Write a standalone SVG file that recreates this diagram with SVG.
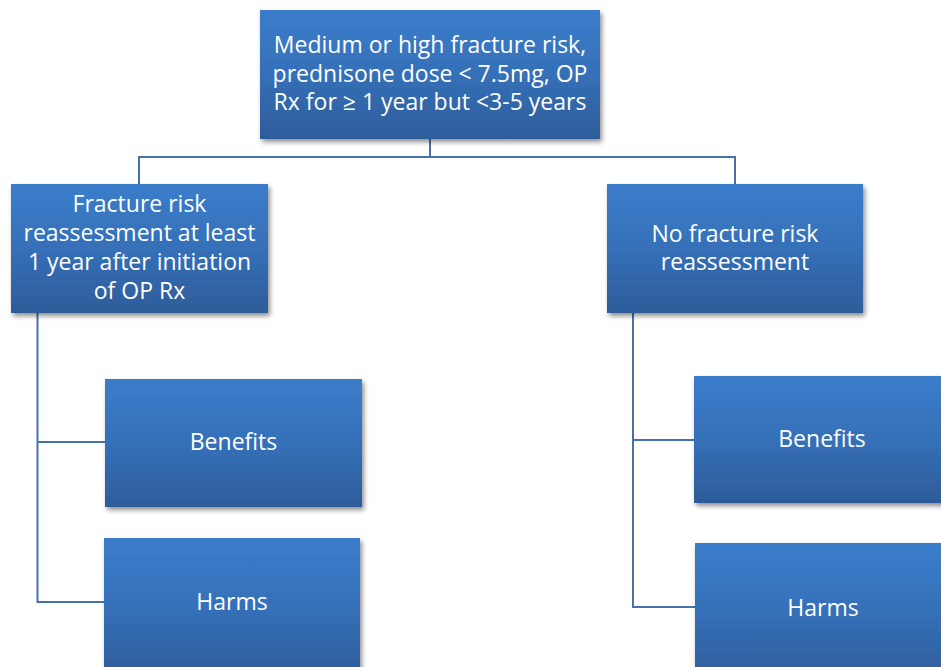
<svg xmlns="http://www.w3.org/2000/svg" width="941" height="667" viewBox="0 0 941 667">
<defs>
<linearGradient id="g" x1="0" y1="0" x2="0" y2="1">
<stop offset="0" stop-color="#3B7DCB"/>
<stop offset="0.5" stop-color="#3570B8"/>
<stop offset="1" stop-color="#2E5C99"/>
</linearGradient>
<filter id="sh" x="-10%" y="-10%" width="125%" height="130%">
<feGaussianBlur in="SourceAlpha" stdDeviation="2.5"/>
<feOffset dx="2" dy="3" result="b"/>
<feComponentTransfer><feFuncA type="linear" slope="0.45"/></feComponentTransfer>
<feMerge><feMergeNode/><feMergeNode in="SourceGraphic"/></feMerge>
</filter>
</defs>
<style>
.box{fill:url(#g);filter:url(#sh);}
.t{font-family:"Open Sans","Noto Sans","Liberation Sans",sans-serif;font-size:23px;fill:#FFFFFF;text-anchor:middle;}
.c{fill:none;stroke:#4672AA;stroke-width:2;}
</style>
<rect width="941" height="667" fill="#FFFFFF"/>
<g id="connectors">
<polyline class="c" points="430,139 430,157"/>
<polyline class="c" points="139,184 139,157 735,157 735,184"/>
<polyline class="c" points="37.5,313 37.5,602 104,602"/>
<polyline class="c" points="37.5,442 105,442"/>
<polyline class="c" points="633,313 633,607 695,607"/>
<polyline class="c" points="633,440 694,440"/>
</g>
<g id="root">
<rect class="box" x="260" y="10" width="340" height="129"/>
<text class="t" x="430" y="52.5">Medium or high fracture risk,</text>
<text class="t" x="430" y="81.5">prednisone dose &lt; 7.5mg, OP</text>
<text class="t" x="430" y="110">Rx for ≥ 1 year but &lt;3-5 years</text>
</g>
<g id="reassess">
<rect class="box" x="11" y="184" width="257" height="129"/>
<text class="t" x="139.5" y="211.5">Fracture risk</text>
<text class="t" x="139.5" y="241">reassessment at least</text>
<text class="t" x="139.5" y="270">1 year after initiation</text>
<text class="t" x="139.5" y="299">of OP Rx</text>
</g>
<g id="noreassess">
<rect class="box" x="607" y="184" width="256" height="129"/>
<text class="t" x="735" y="241.5">No fracture risk</text>
<text class="t" x="735" y="270">reassessment</text>
</g>
<g id="benefits-left">
<rect class="box" x="105" y="379" width="257" height="128"/>
<text class="t" x="233.5" y="450">Benefits</text>
</g>
<g id="harms-left">
<rect class="box" x="104" y="538" width="256" height="140"/>
<text class="t" x="232" y="610">Harms</text>
</g>
<g id="benefits-right">
<rect class="box" x="694" y="376" width="256" height="127"/>
<text class="t" x="822" y="447">Benefits</text>
</g>
<g id="harms-right">
<rect class="box" x="695" y="543" width="256" height="140"/>
<text class="t" x="823" y="615.5">Harms</text>
</g>
</svg>
